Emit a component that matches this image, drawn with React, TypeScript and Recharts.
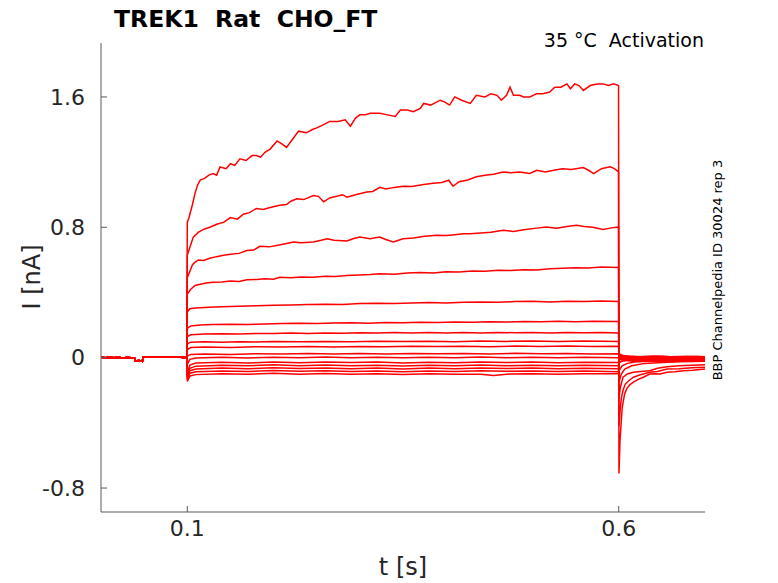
import React from "react";
import { Line, LineChart, XAxis, YAxis } from "recharts";

// time [s], current [nA]
type Pt = [number, number];

// holding segment before the step, shared by every sweep
const BASELINE: Pt[] = [
  [0, 0.002], [0.005, -0.001], [0.01, 0.003], [0.015, 0.0], [0.02, 0.002], [0.025, -0.002],
  [0.03, 0.001], [0.035, -0.001], [0.039, 0.0], [0.0395, -0.021], [0.044, -0.018], [0.048, -0.022],
  [0.0487, 0.005], [0.055, 0.003], [0.06, 0.006], [0.065, 0.002], [0.07, 0.005], [0.075, 0.002],
  [0.08, 0.005], [0.085, 0.002], [0.09, 0.004], [0.095, 0.001], [0.0995, 0.003],
];

const STEP_1: Pt[] = [
  [0.1, 0.83], [0.102, 0.86], [0.106, 0.94], [0.109, 1.01], [0.112, 1.06], [0.115, 1.09], [0.12, 1.1],
  [0.125, 1.12], [0.13, 1.13], [0.134, 1.12], [0.138, 1.17], [0.145, 1.16], [0.15, 1.19], [0.155, 1.18],
  [0.161, 1.22], [0.168, 1.21], [0.175, 1.24], [0.18, 1.24], [0.185, 1.23], [0.19, 1.26], [0.196, 1.28],
  [0.204, 1.33], [0.21, 1.31], [0.215, 1.29], [0.222, 1.34], [0.229, 1.39], [0.238, 1.38], [0.245, 1.4],
  [0.25, 1.41], [0.258, 1.43], [0.265, 1.45], [0.275, 1.45], [0.283, 1.46], [0.289, 1.42], [0.295, 1.47],
  [0.3, 1.49], [0.306, 1.49], [0.312, 1.5], [0.323, 1.5], [0.332, 1.49], [0.341, 1.48], [0.347, 1.52],
  [0.355, 1.52], [0.362, 1.51], [0.37, 1.53], [0.374, 1.56], [0.382, 1.55], [0.393, 1.58], [0.398, 1.57],
  [0.404, 1.55], [0.41, 1.6], [0.418, 1.58], [0.428, 1.56], [0.435, 1.61], [0.445, 1.6], [0.452, 1.62],
  [0.459, 1.61], [0.464, 1.58], [0.47, 1.61], [0.474, 1.66], [0.478, 1.61], [0.485, 1.61], [0.49, 1.6],
  [0.497, 1.6], [0.505, 1.62], [0.512, 1.62], [0.52, 1.63], [0.526, 1.66], [0.533, 1.66], [0.54, 1.68],
  [0.544, 1.65], [0.549, 1.68], [0.554, 1.67], [0.559, 1.64], [0.567, 1.67], [0.575, 1.68], [0.582, 1.68],
  [0.588, 1.67], [0.594, 1.68], [0.5998, 1.67],
];
const TAIL_1: Pt[] = [
  [0.6003, -0.71], [0.6015, -0.51], [0.6027, -0.41], [0.604, -0.31], [0.6055, -0.26], [0.607, -0.22],
  [0.6095, -0.19], [0.613, -0.165], [0.617, -0.15], [0.622, -0.135], [0.6285, -0.12], [0.636, -0.1],
  [0.642, -0.098], [0.648, -0.1], [0.656, -0.09], [0.665, -0.087], [0.675, -0.08], [0.686, -0.077],
  [0.7, -0.07],
];

const STEP_2: Pt[] = [
  [0.1, 0.63], [0.102, 0.66], [0.105, 0.71], [0.107, 0.74], [0.113, 0.77], [0.12, 0.79], [0.126, 0.8],
  [0.135, 0.82], [0.142, 0.83], [0.15, 0.86], [0.158, 0.85], [0.165, 0.88], [0.172, 0.89], [0.18, 0.915],
  [0.188, 0.91], [0.195, 0.92], [0.207, 0.935], [0.215, 0.94], [0.22, 0.96], [0.227, 0.975], [0.235, 0.97],
  [0.246, 0.995], [0.252, 0.99], [0.258, 0.956], [0.265, 0.98], [0.273, 0.99], [0.28, 1.0], [0.285, 0.985],
  [0.295, 1.0], [0.308, 1.017], [0.315, 1.02], [0.323, 1.045], [0.33, 1.035], [0.34, 1.045], [0.35, 1.052],
  [0.36, 1.05], [0.374, 1.063], [0.385, 1.07], [0.395, 1.075], [0.403, 1.089], [0.408, 1.052], [0.415, 1.08],
  [0.425, 1.09], [0.435, 1.11], [0.445, 1.12], [0.455, 1.125], [0.466, 1.14], [0.475, 1.135], [0.485, 1.14],
  [0.497, 1.13], [0.505, 1.15], [0.515, 1.14], [0.526, 1.151], [0.535, 1.16], [0.545, 1.155], [0.559, 1.167],
  [0.565, 1.15], [0.571, 1.13], [0.58, 1.16], [0.59, 1.171], [0.595, 1.16], [0.5998, 1.14],
];
const TAIL_2: Pt[] = [
  [0.6003, -0.42], [0.6015, -0.33], [0.603, -0.25], [0.605, -0.2], [0.6076, -0.162], [0.612, -0.14],
  [0.617, -0.12], [0.625, -0.105], [0.636, -0.09], [0.645, -0.085], [0.656, -0.07], [0.67, -0.068],
  [0.685, -0.062], [0.7, -0.058],
];

const STEP_3: Pt[] = [
  [0.1, 0.49], [0.103, 0.53], [0.106, 0.57], [0.109, 0.586], [0.113, 0.6], [0.119, 0.597], [0.126, 0.61],
  [0.134, 0.62], [0.142, 0.628], [0.15, 0.635], [0.16, 0.64], [0.169, 0.658], [0.177, 0.66], [0.184, 0.683],
  [0.195, 0.68], [0.205, 0.69], [0.215, 0.7], [0.223, 0.71], [0.232, 0.705], [0.246, 0.71], [0.255, 0.72],
  [0.262, 0.73], [0.27, 0.72], [0.285, 0.716], [0.292, 0.73], [0.3, 0.74], [0.312, 0.73], [0.323, 0.74],
  [0.33, 0.725], [0.339, 0.71], [0.35, 0.73], [0.362, 0.735], [0.375, 0.745], [0.389, 0.751], [0.4, 0.75],
  [0.41, 0.755], [0.42, 0.76], [0.428, 0.761], [0.44, 0.765], [0.452, 0.77], [0.466, 0.782], [0.478, 0.775],
  [0.49, 0.785], [0.505, 0.795], [0.516, 0.802], [0.528, 0.795], [0.54, 0.805], [0.551, 0.812], [0.56, 0.805],
  [0.57, 0.8], [0.582, 0.786], [0.59, 0.795], [0.5998, 0.802],
];
const TAIL_3: Pt[] = [
  [0.6003, -0.25], [0.602, -0.18], [0.605, -0.12], [0.61, -0.1], [0.617, -0.09], [0.625, -0.085],
  [0.636, -0.08], [0.645, -0.065], [0.656, -0.055], [0.67, -0.05], [0.685, -0.046], [0.7, -0.043],
];

const STEP_4: Pt[] = [
  [0.1, 0.39], [0.104, 0.42], [0.109, 0.443], [0.115, 0.45], [0.122, 0.458], [0.13, 0.463], [0.14, 0.465],
  [0.15, 0.47], [0.16, 0.468], [0.169, 0.478], [0.18, 0.48], [0.19, 0.485], [0.2, 0.482], [0.207, 0.494],
  [0.22, 0.49], [0.232, 0.495], [0.246, 0.494], [0.26, 0.5], [0.272, 0.498], [0.285, 0.505], [0.3, 0.508],
  [0.312, 0.51], [0.323, 0.515], [0.34, 0.512], [0.355, 0.52], [0.37, 0.522], [0.385, 0.52], [0.4, 0.528],
  [0.415, 0.526], [0.43, 0.532], [0.445, 0.53], [0.46, 0.536], [0.475, 0.535], [0.49, 0.54], [0.505, 0.538],
  [0.52, 0.545], [0.535, 0.548], [0.55, 0.552], [0.565, 0.55], [0.58, 0.556], [0.5998, 0.554],
];
const TAIL_4: Pt[] = [
  [0.6003, -0.15], [0.603, -0.1], [0.607, -0.07], [0.615, -0.05], [0.63, -0.035], [0.65, -0.03],
  [0.67, -0.025], [0.7, -0.022],
];

const STEP_5: Pt[] = [
  [0.1, 0.28], [0.103, 0.3], [0.11, 0.305], [0.125, 0.31], [0.14, 0.312], [0.16, 0.315], [0.18, 0.318],
  [0.2, 0.322], [0.22, 0.324], [0.24, 0.326], [0.26, 0.328], [0.28, 0.326], [0.3, 0.332], [0.32, 0.334],
  [0.34, 0.332], [0.36, 0.336], [0.38, 0.338], [0.4, 0.336], [0.42, 0.34], [0.44, 0.342], [0.46, 0.34],
  [0.48, 0.344], [0.5, 0.346], [0.52, 0.342], [0.54, 0.347], [0.56, 0.345], [0.58, 0.348], [0.5998, 0.345],
];
const TAIL_5: Pt[] = [
  [0.6003, -0.08], [0.604, -0.05], [0.61, -0.035], [0.62, -0.025], [0.64, -0.02], [0.66, -0.016],
  [0.68, -0.014], [0.7, -0.012],
];

const STEP_6: Pt[] = [
  [0.1, 0.18], [0.104, 0.195], [0.115, 0.2], [0.13, 0.203], [0.15, 0.205], [0.17, 0.203], [0.19, 0.207],
  [0.21, 0.209], [0.23, 0.211], [0.25, 0.209], [0.27, 0.213], [0.29, 0.214], [0.31, 0.212], [0.33, 0.216],
  [0.35, 0.215], [0.37, 0.218], [0.39, 0.216], [0.41, 0.219], [0.43, 0.218], [0.45, 0.221], [0.47, 0.219],
  [0.49, 0.222], [0.51, 0.22], [0.53, 0.223], [0.55, 0.221], [0.57, 0.224], [0.5998, 0.222],
];
const TAIL_6: Pt[] = [
  [0.6003, -0.03], [0.605, -0.02], [0.615, -0.012], [0.63, -0.008], [0.65, -0.01], [0.67, -0.006], [0.7, -0.008],
];

const STEP_7: Pt[] = [
  [0.1, 0.13], [0.104, 0.14], [0.12, 0.145], [0.14, 0.147], [0.16, 0.145], [0.18, 0.149], [0.2, 0.148],
  [0.22, 0.151], [0.24, 0.149], [0.26, 0.152], [0.28, 0.15], [0.3, 0.153], [0.32, 0.151], [0.34, 0.154],
  [0.36, 0.152], [0.38, 0.155], [0.4, 0.152], [0.42, 0.154], [0.44, 0.151], [0.46, 0.155], [0.48, 0.153],
  [0.5, 0.155], [0.52, 0.152], [0.54, 0.155], [0.56, 0.153], [0.58, 0.154], [0.5998, 0.152],
];
const TAIL_7: Pt[] = [
  [0.6003, -0.01], [0.605, -0.005], [0.615, 0.0], [0.63, -0.003], [0.65, 0.002], [0.67, -0.002], [0.7, 0.0],
];

const STEP_8: Pt[] = [
  [0.1, 0.085], [0.104, 0.095], [0.12, 0.097], [0.14, 0.095], [0.16, 0.098], [0.18, 0.096], [0.2, 0.099],
  [0.23, 0.097], [0.26, 0.1], [0.29, 0.098], [0.32, 0.101], [0.35, 0.099], [0.38, 0.101], [0.41, 0.098],
  [0.44, 0.102], [0.47, 0.1], [0.5, 0.102], [0.53, 0.099], [0.56, 0.102], [0.5998, 0.1],
];
const TAIL_8: Pt[] = [
  [0.6003, 0.02], [0.605, 0.01], [0.615, 0.004], [0.63, 0.0], [0.65, 0.005], [0.67, 0.0], [0.69, 0.004], [0.7, 0.002],
];

const STEP_9: Pt[] = [
  [0.1, 0.05], [0.104, 0.062], [0.12, 0.065], [0.15, 0.063], [0.18, 0.067], [0.21, 0.065], [0.24, 0.068],
  [0.27, 0.066], [0.3, 0.069], [0.33, 0.067], [0.36, 0.07], [0.39, 0.068], [0.42, 0.07], [0.45, 0.067],
  [0.48, 0.071], [0.51, 0.069], [0.54, 0.071], [0.57, 0.068], [0.5998, 0.07],
];
const TAIL_9: Pt[] = [
  [0.6003, 0.025], [0.605, 0.012], [0.615, 0.008], [0.63, 0.004], [0.65, 0.008], [0.67, 0.003], [0.69, 0.007], [0.7, 0.005],
];

const STEP_10: Pt[] = [
  [0.1, 0.01], [0.104, 0.02], [0.12, 0.022], [0.15, 0.02], [0.18, 0.024], [0.21, 0.022], [0.24, 0.026],
  [0.27, 0.023], [0.3, 0.025], [0.33, 0.022], [0.36, 0.026], [0.39, 0.024], [0.42, 0.026], [0.45, 0.023],
  [0.48, 0.027], [0.51, 0.024], [0.54, 0.026], [0.57, 0.023], [0.5998, 0.024],
];
const TAIL_10: Pt[] = [
  [0.6003, 0.02], [0.605, 0.01], [0.62, 0.006], [0.64, 0.01], [0.66, 0.005], [0.68, 0.009], [0.7, 0.006],
];

const STEP_11: Pt[] = [
  [0.1, -0.04], [0.103, -0.01], [0.11, -0.002], [0.14, 0.002], [0.17, -0.002], [0.2, 0.003], [0.23, 0.0],
  [0.26, 0.004], [0.29, 0.0], [0.32, 0.003], [0.35, -0.001], [0.38, 0.003], [0.41, 0.0], [0.44, 0.004],
  [0.47, 0.0], [0.5, 0.003], [0.53, -0.001], [0.56, 0.003], [0.5998, 0.0],
];
const TAIL_11: Pt[] = [
  [0.6003, 0.015], [0.605, 0.005], [0.62, -0.004], [0.64, 0.0], [0.66, -0.005], [0.68, -0.001], [0.7, -0.004],
];

const STEP_12: Pt[] = [
  [0.1, -0.09], [0.103, -0.045], [0.11, -0.033], [0.14, -0.028], [0.17, -0.032], [0.2, -0.027], [0.23, -0.031],
  [0.26, -0.026], [0.29, -0.03], [0.32, -0.027], [0.35, -0.032], [0.38, -0.028], [0.41, -0.031], [0.44, -0.026],
  [0.47, -0.03], [0.5, -0.027], [0.53, -0.031], [0.56, -0.028], [0.5998, -0.03],
];
const TAIL_12: Pt[] = [
  [0.6003, 0.01], [0.605, 0.0], [0.62, -0.008], [0.64, -0.004], [0.66, -0.01], [0.68, -0.006], [0.7, -0.009],
];

const STEP_13: Pt[] = [
  [0.1, -0.11], [0.103, -0.065], [0.11, -0.052], [0.14, -0.046], [0.17, -0.05], [0.2, -0.044], [0.23, -0.049],
  [0.26, -0.045], [0.29, -0.05], [0.32, -0.046], [0.35, -0.051], [0.38, -0.046], [0.41, -0.05], [0.44, -0.045],
  [0.47, -0.049], [0.5, -0.046], [0.53, -0.05], [0.56, -0.047], [0.5998, -0.049],
];
const TAIL_13: Pt[] = [
  [0.6003, 0.005], [0.605, -0.005], [0.62, -0.012], [0.64, -0.008], [0.66, -0.014], [0.68, -0.01], [0.7, -0.012],
];

const STEP_14: Pt[] = [
  [0.1, -0.12], [0.103, -0.08], [0.11, -0.07], [0.14, -0.064], [0.17, -0.068], [0.2, -0.062], [0.23, -0.067],
  [0.26, -0.063], [0.29, -0.068], [0.32, -0.064], [0.35, -0.069], [0.38, -0.064], [0.41, -0.068], [0.44, -0.063],
  [0.47, -0.067], [0.5, -0.064], [0.53, -0.068], [0.56, -0.065], [0.5998, -0.068],
];
const TAIL_14: Pt[] = [
  [0.6003, 0.0], [0.605, -0.008], [0.62, -0.016], [0.64, -0.012], [0.66, -0.018], [0.68, -0.013], [0.7, -0.016],
];

const STEP_15: Pt[] = [
  [0.1, -0.13], [0.103, -0.095], [0.11, -0.087], [0.14, -0.081], [0.17, -0.085], [0.2, -0.079], [0.23, -0.084],
  [0.26, -0.08], [0.29, -0.085], [0.32, -0.081], [0.35, -0.086], [0.38, -0.081], [0.41, -0.085], [0.44, -0.08],
  [0.47, -0.084], [0.5, -0.081], [0.53, -0.085], [0.56, -0.082], [0.5998, -0.086],
];
const TAIL_15: Pt[] = [
  [0.6003, -0.005], [0.605, -0.012], [0.62, -0.02], [0.64, -0.016], [0.66, -0.022], [0.68, -0.017], [0.7, -0.02],
];

const STEP_16: Pt[] = [
  [0.1, -0.145], [0.103, -0.112], [0.11, -0.104], [0.14, -0.098], [0.17, -0.102], [0.2, -0.096], [0.23, -0.101],
  [0.26, -0.097], [0.29, -0.102], [0.32, -0.098], [0.35, -0.103], [0.38, -0.098], [0.41, -0.102], [0.44, -0.101],
  [0.455, -0.11], [0.47, -0.101], [0.5, -0.098], [0.53, -0.102], [0.56, -0.099], [0.5998, -0.098],
];
const TAIL_16: Pt[] = [
  [0.6003, -0.01], [0.605, -0.016], [0.62, -0.024], [0.64, -0.02], [0.66, -0.025], [0.68, -0.02], [0.7, -0.022],
];

const SWEEPS: [Pt[], Pt[]][] = [
  [STEP_1, TAIL_1], [STEP_2, TAIL_2], [STEP_3, TAIL_3], [STEP_4, TAIL_4],
  [STEP_5, TAIL_5], [STEP_6, TAIL_6], [STEP_7, TAIL_7], [STEP_8, TAIL_8],
  [STEP_9, TAIL_9], [STEP_10, TAIL_10], [STEP_11, TAIL_11], [STEP_12, TAIL_12],
  [STEP_13, TAIL_13], [STEP_14, TAIL_14], [STEP_15, TAIL_15], [STEP_16, TAIL_16],
];

const X_TICKS = [0.1, 0.6];
const Y_TICKS = [-0.8, 0, 0.8, 1.6];

const FONT = "'DejaVu Sans', sans-serif";
const AXIS = "#5a5a5a";
const INK = "#262626";

const traces = SWEEPS.map(([step, tail]) =>
  [...BASELINE, ...step, ...tail].map(([t, i]) => ({ t, i }))
);

export default function App() {
  return (
    <div style={{ position: "fixed", left: 0, top: 0, width: 778, height: 583, background: "#fff" }}>
      <LineChart width={778} height={583} margin={{ top: 43, right: 73, bottom: 31, left: 41 }}>
        <XAxis
          type="number"
          dataKey="t"
          domain={[0, 0.7]}
          ticks={X_TICKS}
          allowDataOverflow
          height={40}
          tickSize={-6}
          tickMargin={14}
          stroke={AXIS}
          tick={{ fill: INK, fontSize: 22, fontFamily: FONT }}
          tickFormatter={(v: number) => String(v)}
        />
        <YAxis
          type="number"
          dataKey="i"
          domain={[-0.947, 1.931]}
          ticks={Y_TICKS}
          allowDataOverflow
          width={60}
          tickSize={-6}
          tickMargin={22}
          stroke={AXIS}
          tick={{ fill: INK, fontSize: 22, fontFamily: FONT }}
          tickFormatter={(v: number) => String(v)}
        />
        {traces.map((d, k) => (
          <Line
            key={k}
            data={d}
            dataKey="i"
            type="linear"
            stroke="#ff0000"
            strokeWidth={1.5}
            dot={false}
            activeDot={false}
            isAnimationActive={false}
          />
        ))}
      </LineChart>
      <svg
        width={778}
        height={583}
        style={{ position: "absolute", left: 0, top: 0, pointerEvents: "none", fontFamily: FONT }}
      >
        <text x={114} y={27} fontSize={23.5} fontWeight="bold" fill="#000" style={{ whiteSpace: "pre" }}>
          TREK1  Rat  CHO_FT
        </text>
        <text x={704} y={47} fontSize={19} textAnchor="end" fill="#000" style={{ whiteSpace: "pre" }}>
          35 °C  Activation
        </text>
        <text x={403} y={575} fontSize={24} textAnchor="middle" fill={INK}>
          t [s]
        </text>
        <text x={40} y={277} fontSize={24} textAnchor="middle" fill={INK} transform="rotate(-90 40 277)">
          I [nA]
        </text>
        <text x={722} y={270} fontSize={13} textAnchor="middle" fill="#000" transform="rotate(-90 722 270)">
          BBP Channelpedia ID 30024 rep 3
        </text>
      </svg>
    </div>
  );
}
